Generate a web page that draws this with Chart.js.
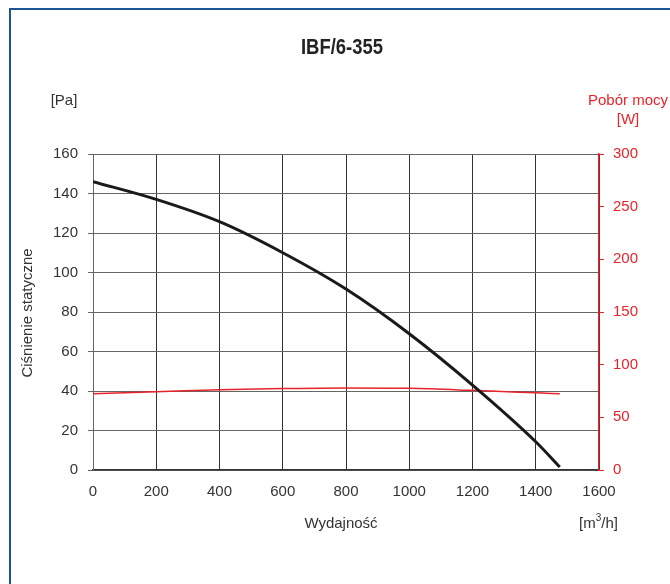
<!DOCTYPE html>
<html>
<head>
<meta charset="utf-8">
<script src="https://cdn.jsdelivr.net/npm/chart.js@4.4.1/dist/chart.umd.min.js"></script>
<style>
  html, body { margin: 0; padding: 0; background: #fff; }
  #wrap { position: relative; width: 670px; height: 584px; overflow: hidden; }
  #frame { position: absolute; left: 9px; top: 8px; width: 700px; height: 620px;
           border-left: 2px solid #1d5594; border-top: 2px solid #1d5594; }
  canvas { position: absolute; left: 0; top: 0; }
</style>
</head>
<body>
<div id="wrap">
  <div id="frame"></div>
  <canvas id="fan-chart" width="670" height="584"></canvas>
</div>
<script>
// przepływ [m3/h]
var flow = [0, 200, 400, 600, 800, 1000, 1200, 1400, 1476];
// ciśnienie statyczne [Pa]
var pressure = [146, 137, 125.7, 110, 91.6, 69, 43, 14.3, 1.5];
// pobór mocy [W]
var power = [72.4, 74.3, 76.2, 77.3, 77.9, 77.5, 75.6, 73.3, 72.4];

var xTicks = [0, 200, 400, 600, 800, 1000, 1200, 1400, 1600];
var red = '#e8232b';
var txt = '#333333';
var font = '"Liberation Sans", Arial, sans-serif';

function pts(xs, ys) {
  return xs.map(function (x, i) { return { x: x, y: ys[i] }; });
}

var labelsPlugin = {
  id: 'labels',
  afterDraw: function (chart) {
    var ctx = chart.ctx;
    ctx.save();
    ctx.textBaseline = 'middle';
    ctx.textAlign = 'center';
    ctx.fillStyle = '#222';
    // tytuł - zwężony
    ctx.font = 'bold 22px ' + font;
    var tw = ctx.measureText('IBF/6-355').width;
    ctx.save();
    ctx.translate(342, 48);
    ctx.scale(82 / tw, 1);
    ctx.fillText('IBF/6-355', 0, 0);
    ctx.restore();

    ctx.font = '15px ' + font;
    ctx.fillStyle = txt;
    ctx.fillText('[Pa]', 64, 101);
    ctx.fillText('Wydajność', 341, 524);

    // [m3/h]
    ctx.textAlign = 'left';
    var x0 = 579;
    ctx.fillText('[m', x0, 524);
    var w = ctx.measureText('[m').width;
    ctx.font = '10px ' + font;
    ctx.fillText('3', x0 + w, 518);
    var w2 = ctx.measureText('3').width;
    ctx.font = '15px ' + font;
    ctx.fillText('/h]', x0 + w + w2, 524);

    ctx.textAlign = 'center';
    ctx.fillStyle = red;
    ctx.fillText('Pobór mocy', 628, 101);
    ctx.fillText('[W]', 628, 120);

    ctx.fillStyle = txt;
    ctx.translate(28, 313);
    ctx.rotate(-Math.PI / 2);
    ctx.fillText('Ciśnienie statyczne', 0, 0);
    ctx.restore();
  }
};

new Chart(document.getElementById('fan-chart'), {
  type: 'line',
  data: {
    datasets: [
      {
        label: 'Ciśnienie statyczne',
        data: pts(flow, pressure),
        borderColor: '#1a1a1a',
        borderWidth: 3,
        pointRadius: 0,
        cubicInterpolationMode: 'monotone',
        yAxisID: 'y'
      },
      {
        label: 'Pobór mocy',
        data: pts(flow, power),
        borderColor: red,
        borderWidth: 1.5,
        pointRadius: 0,
        cubicInterpolationMode: 'monotone',
        yAxisID: 'y1'
      }
    ]
  },
  plugins: [labelsPlugin],
  options: {
    responsive: false,
    animation: false,
    layout: { padding: { top: 154, left: 0, right: 0, bottom: 0 } },
    plugins: {
      legend: { display: false },
      tooltip: { enabled: false }
    },
    scales: {
      x: {
        type: 'linear',
        min: 0,
        max: 1600,
        afterBuildTicks: function (s) { s.ticks = xTicks.map(function (v) { return { value: v }; }); },
        afterFit: function (s) { s.height = 114; },
        grid: { color: '#333', lineWidth: 1, drawTicks: false },
        border: { color: '#333', width: 1.5 },
        ticks: { color: txt, font: { family: font, size: 15 }, padding: 13, maxRotation: 0,
                 callback: function (v) { return String(v); } }
      },
      y: {
        position: 'left',
        min: 0,
        max: 160,
        afterFit: function (s) { s.width = 93; },
        grid: { color: '#666', lineWidth: 1, tickLength: 5 },
        border: { color: '#666', width: 1 },
        ticks: { stepSize: 20, color: txt, font: { family: font, size: 15 }, padding: 10 }
      },
      y1: {
        position: 'right',
        min: 0,
        max: 300,
        afterFit: function (s) { s.width = 71; },
        grid: { drawOnChartArea: false, color: red, tickLength: 5 },
        border: { color: red, width: 1.5 },
        ticks: { stepSize: 50, color: red, font: { family: font, size: 15 }, padding: 9 }
      }
    }
  }
});
</script>
</body>
</html>
